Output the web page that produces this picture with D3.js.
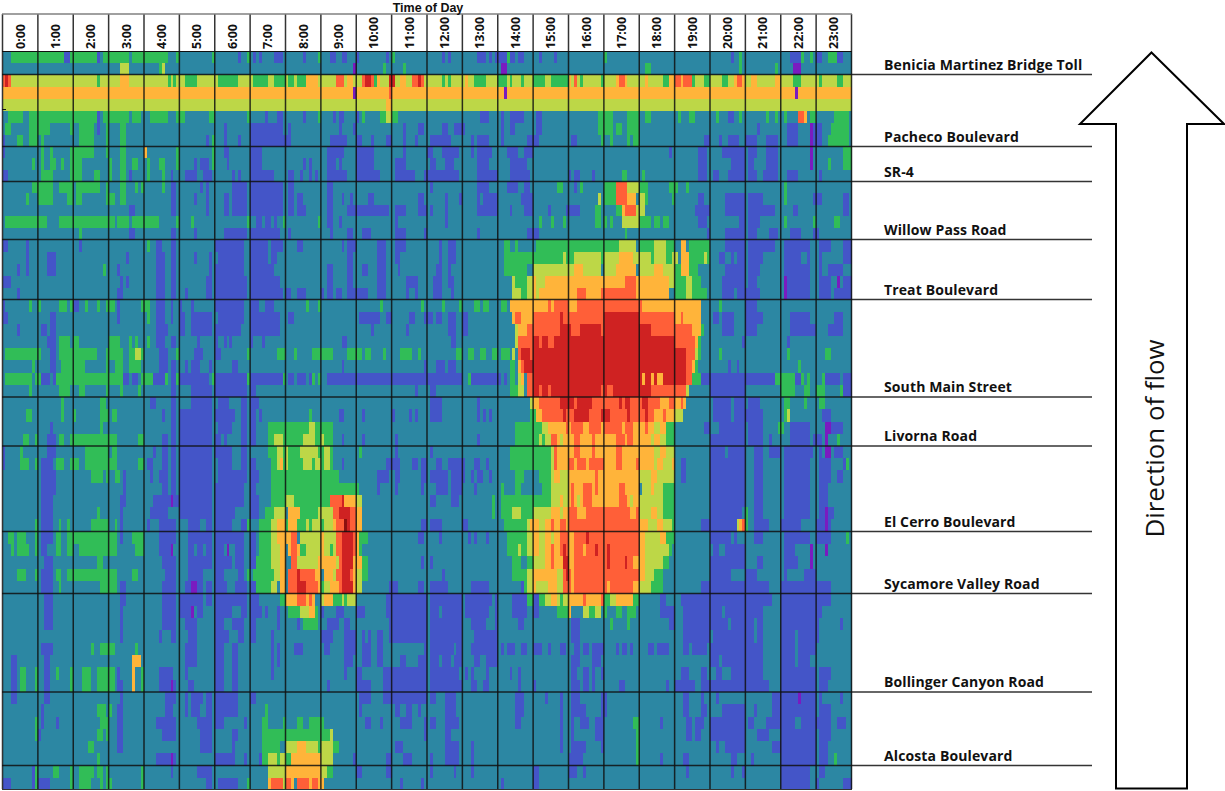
<!DOCTYPE html>
<html>
<head>
<meta charset="utf-8">
<script src="https://cdn.jsdelivr.net/npm/d3@7"></script>
<style>
  html, body { margin: 0; padding: 0; background: #fff; }
  svg { display: block; }
</style>
</head>
<body>
<div id="chart"></div>
<script>
// speed bins, low to high
const levels = ["p", "b", "t", "g", "y", "o", "r", "d", "k"];
const levelColors = ["#7a1bc0", "#4455c8", "#2c87a3", "#31bd57", "#bdd747", "#ffb43a", "#ff5f38", "#cf2222", "#8c1010"];

const hours = ["0:00","1:00","2:00","3:00","4:00","5:00","6:00","7:00","8:00","9:00","10:00","11:00","12:00","13:00","14:00","15:00","16:00","17:00","18:00","19:00","20:00","21:00","22:00","23:00"];

// ramps, name + index of the row the line sits on
const ramps = ["Benicia Martinez Bridge Toll","Pacheco Boulevard","SR-4","Willow Pass Road","Treat Boulevard","South Main Street","Livorna Road","El Cerro Boulevard","Sycamore Valley Road","Bollinger Canyon Road","Alcosta Boulevard"];
const rampRows = [2, 8, 11, 16, 21, 29, 33, 40, 45, 53, 59];
const rampY = [74.5, 146.5, 181.5, 239.5, 299.5, 397, 446, 531.5, 593.5, 692, 765.5];

// one string per row, runs of 5 minute bins: level + start-end (end not included).
// anything not listed is level t
const tollRows = [
  "g3-21 b21-23 g23-32 b32 g34-43 g44-56 g59 g71 b80 g83 b85 b87 b92-95 b102 g107 b111-113 b115-117 b120 b130 g132 b149 b151 b161-164 b165 b167-171 g171 b172-174 b175-177 b182 b187 g204 b247 g250 b267-271 g271 g274 b276-278 g280-283 b283-285",
  "y40-43 g53 y54 p119 g129 g136 p169-171 g218-220 g250 g262 p268-271"
];
const pachecoRows = [
  "y0-288 r0 d1 r2 g32 o40-43 g56 g58 g62-66 g73-80 g85-87 g87-90 g92-96 g97-99 g100-103 o103-107 r113-116 o117-119 r122 d123-125 r125 g126 o127 d131-133 o135-137 r139-141 d141 r142 g149 g151 o157 g160-164 g168-171 g172 g176 g180-184 g186-192 o192 r194 g196 g203 o208 r209-211 o211 o218 g224-226 o226-228 r228-230 o230 r231-234 g234 g238-240 g244-246 o248 r249-251 o251 o254-256 o262-264 g268-271 g277 g283-285",
  "o0-288 r131 p119 p170 p269",
  "y0-288 o130-132",
  "g2-7 g9-32 b32 g34-43 g44-47 g50-56 g59-62 g70-72 g83 b89 b93-95 b102 g107 b112 b114-116 b120 g122 g128-130 y130-132 g132-134 b162-165 b169 b172-177 b181-183 g202-204 g204-207 g212-216 g218-220 g229 g233-235 g242 b246-248 g250 g259 g262 g265 r270-272 o272 g274-276 g282-287",
  "g1-3 g9-16 g23 g26-31 b32 g35 g40-42 b75 b84-95 b97 b114 b119 b136 b141-143 b149-151 b153-157 b169 b172-174 b181-183 g202-204 g204-207 g208-210 g212-216 b256 b266-270 p274 b275-278 g281-287",
  "b0 g5-7 g9-12 g13 g26-31 g35 g40-42 b69 g71 b75 b80 b84-96 b96-98 b111-117 b120-122 b125 b130-132 b136 b140 b145-152 b159 b161-165 b169 b178-182 b193-195 g203 g206 g212 g214-216 b238-240 b243 b246-250 b252-256 b259-263 b266-270 p274 b275-278 g280-287"
];
const sr4Rows = [
  "b0 g13 g16 g23-31 g35 g40-42 o48 g59 g71 b75-77 b84-88 b110-116 b120-126 b136 b144-146 b149-155 b159 b161-166 b171-175 b177-180 b226 b236-239 b244-252 b253-256 b259-263 p274 g285-288",
  "g10 g13 g16-18 g20 g23-27 g36 g40-42 g44-46 g49 g53-55 g59 b65 b67-70 g71 b76 b84-88 b102 b104 b110-113 b114 b120-126 b133-137 b145-147 b150-153 b161-165 b172-178 b236-239 b247-252 b253-255 b259-263 p274 g280 g285-288",
  "b0-2 g13-17 g23-27 g31-33 g36 g40-42 b43 g49 g54 b57 b62-66 b68-71 b78 b80 b84-92 b97-99 b101 b104 b106 b110-117 b120-128 b133-140 b143-155 b161-168 b172-179 b192 b194-196 b200 g210-212 g217 b236-239 b241-243 b246-252 b253-256 b258-263 b266-270 b277"
];
const willowRows = [
  "g10-17 g19-24 g25-33 g35 g40-42 g45 g47 g54 b57-59 b67 b69-70 b78-83 b84-95 b97-99 b110-112 b145 b161-165 b171-175 b177-179 g188-190 b194 g196 g204-208 r208-212 y212-216 g216-219 g226-229 g232 g265",
  "g8 g12-17 g22-24 g25-27 g35-38 g40-42 b57-59 b65 b69-70 b75-77 b78-83 b84-95 b97-99 b100-102 b110-112 b115 b118 b124-126 b141-143 b150 b155 b161 b163-168 b176-180 y202 g204-208 r208-212 o212-215 y216-218 g218 g227 b236-238 b245-252 b253-258 g265 b275-278 b285-287",
  "b43-45 b57-59 b69 b75-77 b78-83 b84-95 b97-99 b100-103 b110-112 b117-131 b133-137 b141-144 b145 b150 b161-168 b172 b177-180 b185 b191-196 g201-203 g208-210 o210 r211-215 y215-218 b235-240 b245-252 b253-262 b268-270 b285-287",
  "g1-15 g19-38 g39-43 g44-53 g59 g64 g83 b86-88 b89-91 b92 g95 g107 b110-112 b114 b133 b150 g182 g186 g190 g201-203 g204 g206 y210-212 y212-216 g216-220 g221-223 g224-226 b236-239 b250-252 b253-257 g265 g275 g282-284",
  "g26 b43-45 b57-59 b65 b75-83 b84-94 b97 b111 b117-119 b122-125 b133-137 b143 b161 b178-182 g211 b239 b245-252 b253-256 b260-263 b267-271 b275-277"
];
const treatRows = [
  "b0-2 b8 b26 g49 b52-54 b57-59 b72-82 b84-90 b91-95 b100-102 b115 b117-120 b127-130 b133-137 b148 b151-154 g170-172 g174 g181-209 y209-215 g216-221 y221-225 g225-228 o230-232 g233-240 b245-252 b253-262 b265-274 b277-281 b285-288",
  "b8 b15-18 b42 b52-55 b57-59 b65 b70 b73-82 b84-90 b91-93 b117-119 b127-130 b133-135 b148 b151-154 g170-180 g180-190 y190 g191-194 y194-203 g203 y204-209 o209-214 y214-216 y216-220 g220 y221-225 g225-227 y227-229 o230-233 g233-238 y238 g239 b243-245 b247 b249-252 b253-258 b265-271 b273 b277 b285-288",
  "b5 b8 b15-18 g34 b39 b52-55 b57-59 b70 b72-82 b84-92 b110-112 b117-119 b122-124 b127-130 b134 b147-149 b151 g170-174 g174-178 y180-194 o194-197 y197-203 y204-208 o208-215 y216-221 o221-224 y224-228 g228-230 o230-233 g233-236 b245-252 b253-257 b265-274 b277 b280-285",
  "b0-3 b40-41 b42 b52-55 b57-59 b69-71 b72-83 b84-94 b110-112 b117-119 b127-130 b137-141 b146-149 b151-153 y173 g174-178 y178-180 o180 y181 y182-184 o184-211 r211-215 o215-226 y226-228 g228-232 y232-234 g234-237 b244-252 b253-256 p265 b266-274 b277-281 p283 b285-288",
  "b5 b39-41 b52-55 b57-59 b62 b69-71 b72-83 b84-95 b96-98 b100-103 b108 b110-112 b113-115 b117-124 b127-130 b137 b140 b146-149 b152 y173-176 g176-178 y178-180 o180 y181 o182-195 r195-198 o198-203 r203-215 o215-226 g228-232 y232-234 g234-239 b244-248 b249-252 b252-257 p265 b266-274 b277-281 b282-288"
];
const southMainRows = [
  "b0 g9 g12 g19-22 g23 b24-26 g28 g32 g35-38 b39 g47-50 b52-55 b57 b60 b64 b72-82 b84-87 b89-92 g103 g107 g128 g142 g149 g155 g160-162 g163-165 g169-171 o172-185 r185 o186 r187-192 o192-195 r195-217 o217-237 g243 b252-256",
  "b0-2 b16-18 b39 g49 b52-55 b57 b60-62 b64-71 b73-82 b84-94 b97-99 b121-128 b130-132 b138-140 b143-146 b147-149 b151-154 b156-158 o173 r174-176 o176-180 r180-189 d189 r190-204 d204-216 r216-228 o228-230 r230 o231-237 b241-243 b244-248 b252-258 b267-274 b282-285",
  "b5 b13-15 b16-18 b52-56 b60-62 b64-71 b72-81 b84-94 b125 b137 b151-154 b156-158 y174 o175-178 r178-189 d189-193 r193-196 d196-203 r203 d204-220 r220-234 o234-237 g237 b244-248 b252-256 b267-276 b280-285",
  "b15-18 g19-23 g24-26 g36-40 g43 g45 g49 b52-55 b57-59 b66 b72 b75 b77 b84 b88 b115-117 b152-154 y174 r175-180 d180-182 r182 d183-185 r185-187 d187-228 r228-235 o235 g236 b251 b266",
  "g1-13 b16-18 g19-32 g35-41 g43-45 y45-47 g47 b53-56 g59 b65-68 b72-74 g83 g93-96 g99 g105-112 g117-122 g123-125 g129 g135-139 g141 g154-156 g158-160 g162-164 g166-168 g169-172 y173 r175 d176-179 r179 d180-232 r232-235 y235 g236 g243 g266 g279-281",
  "g10 b16-18 g20-28 g35 g38-41 g43-47 b53-56 b57-59 b62 b64-67 b70 b78-80 b115 b143 b147-150 b151-154 g172-174 o175 r176 d177-232 r232-234 o234 g235 b246 b249 g270",
  "g1-10 g11-13 b13-16 b17 g18-41 b41-43 b44-46 g47-51 b51-55 g55 b57-59 g59 b60-70 g71 b72-83 g83 b84-95 g95 b97-99 b100-103 b104 g105 g107 b110-156 g158 b159-169 b170 g172-174 y175 o176 r178-180 d180-217 o217 d218-220 o220 d221 o222-224 d224-232 r232-234 g234-237 b237-262 g262-269 b269-271 g271 g273 g278 b279-284 b285-288",
  "g9 g19-23 g26-28 g35 g40 g46 b57-59 b64-71 b72-83 b84-86 b140 b145-147 g172-175 y175-177 r178-180 d180-182 r182 d183-185 r185 d186-203 r203 d204 r205-207 d207-220 r220-232 y232 b240-252 g264-269 g272-274 g276-279 g284 b285-288"
];
const livornaRows = [
  "g20 g33-35 b50-52 b57-59 b64-71 b73-77 b81-83 b84-87 b145-149 b161 y179 o180-182 r182-189 d189-194 r194 d195-200 r200-209 d209 r210 d211-213 r213-217 d217-219 r219-223 o223-226 r226-228 o228-230 r230 o231 b241-247 b248-252 b253-257 g265-267 g272 g277-279",
  "g8-10 g20 g24 g33-35 g35 g37-39 b54 b57-59 b60-71 b72-79 b81-83 b84-86 b87 g104 b114-116 b122 b132 b138 b140 b145-149 b161 b163 b165 g179-181 o181-183 r183-190 d190 r191-194 d194-199 r199-203 d203-206 r206 d207 r207-212 d212 r213-218 d218 r219-221 o221-224 r224 o225-228 y228-231 b241-247 b248-252 b252-258 g265 y266 b278-281",
  "b16 g33 b57-59 b60-71 b73-78 b81-83 b84-86 g90-104 y104-106 g106-112 g174-183 y183-185 o185-191 r191 o192 r193-197 o197-199 r199-203 o203 r204-210 o210 r211-214 o214-218 r218 o219-221 y221-223 o223-225 g225-228 b238-240 b243-252 b253-258 g263-265 b267-274 p279-281 b281-285",
  "g7-9 g11 b15-18 g19-21 g23-39 g46-48 b54-56 b57-59 b60-71 b72-74 b75 b81-83 b84-86 g90-92 y92-95 g95-102 y102-106 g106-108 y108 g109-112 b115 b122 b133 b161 g174-182 y182 g183 y184-186 r186-188 o188 y189 o190-194 r194-196 o196-200 r200 o201-208 r208-211 o211 r212-214 o214-220 y220 o221-223 y223-225 g225-228 b240-252 b253-258 b260 b267-274 b275-278 p279 g283"
];
const elCerroRows = [
  "b0 g6 b15-18 g28-36 g37-39 b51 b54-56 b57-59 b60-71 b72-78 b81-83 g90-93 y93-95 g95 y96 g97-101 y101-107 g107-109 y109-111 g111 g121 b133 b145 g172-186 y186 r187 o188-194 r194-196 o196-200 r200 o201-208 r208-210 o210-221 y221-223 o223-225 y225-228 b240-245 b246-252 b255-258 b260-264 b265-275 b277 p279-281 b282-285",
  "b0 g6-9 g11 b13-17 g18-21 g23-26 g28-39 g46-48 b49-51 b54-56 b57-59 b60-71 b73-78 b81-83 b84-86 g91-93 y93 o94 g95 y96 g97-102 y102-105 g105 y106-108 g108 y109-111 g111 b115 b130-135 b139-141 b142-144 b147-149 b151-157 b160-162 b164 g172-186 y186 r187 o188-192 r192-194 o194 r195-198 o198 r199-204 o204-208 r208-210 o210-215 r215 o216-221 y221 o222-224 y224-227 o227 b230-232 b240-252 b255-258 b265-274 b277-281 b285 g286",
  "b13-18 g30-34 g35 g38-40 b41 b50 b53-56 b57-59 b60-71 b73-81 b81-83 b84-87 g91-114 b127-131 b133-135 b142-144 b145-151 b152-157 b159 b161-163 b165 g174-177 g182-186 y186 o187-189 y189-192 o192-201 r201 o202-216 y216-220 o220-222 y222-228 b230-232 b240-252 b255-258 b265-274 b277-281 b283-285",
  "b13-18 b41 b54-56 b57-59 b60-71 b72-82 b84-86 g91-121 b127 b133 b142 b147-151 b152-156 b160 g169 g174-176 g183-186 y186-192 o192 r193 o194-197 r197-200 o200 r201 o202-209 r209-211 o211-216 y217-220 o220 y221-224 g224-228 b240-252 b255-258 b265-274 b277-280",
  "b13-17 b40-42 b51-57 p57 b58-71 b72-82 b84-87 g91-96 y96-99 g99-111 r111-115 d115 o116-120 y120-122 b145-147 b152-155 g166 g169-186 y186-189 o189 y190-192 o192 r193 o194 y195 o196 r197-200 o200-209 r209-212 o212 y213 o214-216 y216-224 g224-228 b240-252 b255-258 b265-274 b277-280",
  "b13-17 g32 b40 b50-56 b60-71 b72-79 b84-87 g89-92 y92-96 o97-101 g101-107 y107-109 y109-112 r112-114 d114-118 r118-120 o120-122 g166 g169-173 y173-176 g176-180 y180-186 o186-189 y189 o190-192 r192-195 o195-198 r198-213 o213-215 r215 y216-220 o220-222 y222-224 g224-228 b240-251 g252 b255-258 b265-274 b277-282 p279",
  "g11 b13-17 g19 g22 g30-36 g38 b40 b49 b53-59 b63-67 b69-71 b72-78 b81-83 g83 g87-91 y91-93 o93-96 g96 o97-100 g100-103 y103 g104 y105-108 g108 y109-112 o112 r113-116 d116-118 k116 r118-120 o120-122 b142-144 b145-149 b156-158 g170-178 y178 o179-182 y182-184 o184-186 r186 o187-189 r189-191 o191 r192-216 o216-219 y219-222 o222-224 y224-227 g227 b237-249 y249 o250 r251 g252 b255-260 b264-271 b276-281 p279"
];
const sycamoreRows = [
  "g2-4 g5-8 g11 b13-17 g18-20 g22-39 b40 g44-48 b53-59 b63-71 b72-82 b84-86 g87-91 y91-93 o93-96 o96-98 r98-100 y101-108 o108 y109-113 r113-115 d115-119 r119 o120 g121-124 b141-143 b148 b158 b160 b164 g171-178 y178-180 o180-182 y182-184 o184-186 y186 o187-189 r189-192 o192-194 r194-198 d198 r199-216 o216-218 y218-223 o223-225 g225-228 b240-247 b248 b255-258 b265-274 b276-281 g286",
  "g3 g5-9 g11 b13-15 g18-20 g22-24 b53-57 p57 g26-39 g45-48 b63-65 b66-68 b69-71 b72-75 p76 b79-82 b84-86 g87-91 y91-94 o94-96 o97 r98-100 o100 g101-103 y103-108 o108 y109-111 g111 y112 r113-115 d115-119 r119 o120 g121 g171-175 y175 g176-178 y178-180 o180-182 y182-184 o184-186 r186 o187-189 r189 d190 r191 o192-194 r194-197 o197 r198-201 d201 r202-205 d205 r206-216 o216-218 y218-226 g226 b241-243 b245-252 b265-269 p274 p279",
  "b14-17 g32-34 b54-59 b63-71 b72-78 b79-82 b84-86 g86-91 y91-94 o94-96 r98-100 y100-107 o107-113 y113 r114 d115-119 o119-122 g122-124 b142 b145 g173-176 g178-180 y180-184 o184-186 r186 o187-190 d190-192 o192-194 r194-205 d205 r206-211 d211 r212-214 o214-218 y218-224 g224-226 b240-252 b256-258 b265-270 p274",
  "g5-8 g11 b13-17 g18-20 g22-39 g44-46 b55-59 b63-68 b72-75 b80-82 g83 g85-92 y92-94 o94-96 r97-100 d100 r101-106 o106-108 o109-112 y112 r113-115 d115-118 r118 o119 y120-122 g122-124 b149 g173-178 y178-180 o180-188 y188-190 r190 d191 r192-193 o193 r194-216 o216-218 y218-221 g221-224 b240-247 b252-256 b265 b272-276",
  "b13-17 g19 g33-39 b40-42 b54-59 b62-64 p64-66 b66-68 b69-71 b72-76 b79-83 b84-86 g86-91 y91-93 o94-96 r97-100 d100-103 r103-107 o107 g108 y109-111 o111-114 r114 d115-119 o119 y120-122 b131-134 b141-143 b145-151 b159-165 b176 g177 y178-180 o180 y181-185 o185-188 y188-190 r190-193 o193 r194-205 o205 r206-214 o214-216 y216-220 g220-224 b237-260 b264-281"
];
const bollingerRows = [
  "b14-17 b40-42 b54-59 b60-68 b69-71 b72-83 b84-87 g94-96 o96-100 r100-103 o103 r104 o105 y108 o109-112 g112-115 y115 g116 y117-120 b130-144 b145-156 b157-166 b167 b173-178 g178-180 b180-182 g182-184 y184-186 o186-188 y188 g189 y190-192 o192-197 r197 o198-203 r203 g204-206 y206-208 o208-214 g214-216 b223-225 b230-261 b264-281",
  "b14-17 b40 b54-59 b60-64 p64 b66-68 b72-78 b81-83 b84-88 b89 b93 g97-101 y101-104 o104-106 g106 b108 b113-116 b120-123 b130-144 b145-148 b149-156 b157-165 b167 b173-178 b180-182 g188-192 o192-193 y197-199 g199-201 y201-203 g204 g208-210 g212-215 b223-228 b231-244 b245-258 b264-278",
  "b14-17 b40 b54-59 b62-66 b72-75 b78-82 b84-86 b93 b100 g102-107 b110-114 b116-118 b131-144 b145-156 b159-164 b167 b175-177 b193-196 g206 g212 b226-228 b231-246 b247-255 b256-258 b264-277 b284",
  "b40 b53 b57-59 b63-66 b72-77 b80-82 b84-86 b91 b108-112 b116-120 b122 b124 b127-129 b131-144 b145-156 b160-168 b193-196 b231-240 b241-255 b256-258 b264-269 b270-277",
  "b13-17 g30 g33-38 g45 b62-66 b72-75 b78-80 b91 b93 b99-102 b109-111 b116-120 b122-125 b127-129 b143 b145-153 b154-156 b159-168 b169 b171-174 b176-178 b180-183 b185 b189-191 b194-196 b197-199 b200-204 b208 b210-212 b213 b219-221 b222-226 b231-233 b234-239 b240-258 b264-269 b270-276",
  "b3-5 b14-16 o44-47 b62-66 b72-75 b78-80 b91 b93 b116-119 b122-125 b127-129 b135-137 b141-144 b145-148 b149-152 b153-156 b160-162 b164-168 b193-196 b200-203 b240-243 b244-247 b247-258 b264-269 b270-274",
  "b3-5 g6-8 g11 b14-16 g18 g23 g27-30 g32-38 b39 o44 g47 b53-58 b62 b72-75 b78-80 b91 b116 b120-122 b129-144 b145-155 b157 b159 b164 b172 b175 b193-195 b197-199 b200 b203 b230-233 b237-239 b242-244 b247-258 b264-276 b277-281",
  "b3-5 g6-8 g11 b14-16 g23 g27-30 g32-38 b39-41 o44 g47 b53-59 p57 b63-65 b72-75 b78-80 b110 b120-125 b129-144 b145-156 b159-161 b163-165 b175 b180 b193-196 b197-199 b200 b209-211 b225 b228-235 b237-260 b264-276 b277-280"
];
const alcostaRows = [
  "b3-5 b14-16 b40 b55-59 b62 b64-68 b69-71 b72-80 b84-86 b121-125 b129-144 b145-147 b150-154 b174-177 b184 b189 b193-196 b203-205 b231-233 b237 b242 b261-276 p270 b277 b284",
  "b13 g32-35 g36 b39-41 b55-58 b62 b64-67 b69-71 b72-80 g89 b121 b133-135 b137-139 b141 b150-154 b174-177 b189 b193-198 b203-205 b231-233 b237-239 b244-252 b255 b261-276 b277-281",
  "g11 b13 b18 g33-36 b39-41 b52-59 b66-71 b72-75 b82 g88-90 g95 g100-102 g104-107 g107-109 b123-125 b128 b135-139 b143 b145-147 b150-155 b174-176 b189 b193 b196-199 b201-204 g214-216 b223 b232-234 b235-238 b240-252 b253-255 b259-269 b271-281 b283-286",
  "g11 b12 g32-34 g35 b39-41 b54-59 b67-71 b78-80 g88-91 g91-111 y111 b143 b150-152 b189 b193 b201-204 g215-216 b232-234 b235-237 b240-252 b256-260 b264-276 b277-281",
  "g29-31 b39-41 b67-71 b78 g88-94 y96-100 o100-103 y103-107 g107 y108-112 g112-114 b133-136 b150-155 b159 b189 b193-198 b203 g215 b242 b245-252 b261-276 b277-280",
  "g32 b52-57 p57 b58 b72-79 b82 b87 g88-90 y90-93 g93 y94-96 g96-98 o98-108 y108-112 b119 b130-132 b136-139 b145 b150-155 b159 b192-197 g215 b223 b231-233 b247-249 b254 b264-276 g282 b277-280"
];
const lastRows = [
  "b10 g11 g17-19 g23 g26-31 g32-34 g35 g47 b57 b66-71 y90-96 o96-108 y108-110 g110-112 b120-122 b130-132 b145 b153 b159 b180-182 b192-195 b197 b232 b247 b251 b264-274 b277-279",
  "b0-3 b10 g11 b12-16 g23 g26-30 g33 g35-37 g47 b69-71 b73-80 g83 o90 r91 o92 r92-95 y95 r96-98 o98 r100-104 o104 r105-107 o107-109 b135 b142 b169 b180-182 b264-274 b276 b285-288"
];
const rowStrings = [].concat(tollRows, pachecoRows, sr4Rows, willowRows, treatRows, southMainRows, livornaRows, elCerroRows, sycamoreRows, bollingerRows, alcostaRows, lastRows);

// parse the run strings
const cells = [];
rowStrings.forEach(function(str, row) {
    cells.push({row: row, start: 0, end: 288, level: "t"});
    str.split(" ").forEach(function(run) {
        let m = run.match(/^([a-z])(\d+)(?:-(\d+))?$/);
        let start = +m[2];
        cells.push({row: row, start: start, end: m[3] ? +m[3] : start + 1, level: m[1]});
    });
});

const svg = d3.select("#chart").append("svg")
    .attr("width", 1225)
    .attr("height", 791);

const x = d3.scaleLinear().domain([0, 288]).range([2.5, 851.5]);

// rows are not all the same height in the sheet, so the scale is pinned at the ramp lines
const y = d3.scaleLinear()
    .domain([0].concat(rampRows, [61]))
    .range([51.5].concat(rampY, [789.5]));

const color = d3.scaleOrdinal().domain(levels).range(levelColors);

svg.append("g").selectAll("rect")
    .data(cells)
    .enter().append("rect")
    .attr("x", function(d) { return x(d.start); })
    .attr("y", function(d) { return y(d.row); })
    .attr("width", function(d) { return x(d.end) - x(d.start); })
    .attr("height", function(d) { return y(d.row + 1) - y(d.row); })
    .attr("shape-rendering", "crispEdges")
    .attr("fill", function(d) { return color(d.level); });

// ramp lines, darker over the heatmap
const ramp = svg.append("g").selectAll("g")
    .data(ramps)
    .enter().append("g");

ramp.append("line")
    .attr("x1", 2).attr("x2", 1092)
    .attr("y1", function(d, i) { return rampY[i]; })
    .attr("y2", function(d, i) { return rampY[i]; })
    .attr("stroke", "#111")
    .attr("stroke-opacity", 0.85)
    .attr("stroke-width", 1.3);

ramp.append("text")
    .attr("x", 884)
    .attr("y", function(d, i) { return rampY[i] - 4.8; })
    .attr("font-family", "'Open Sans', sans-serif")
    .attr("font-weight", 700)
    .attr("font-size", 14)
    .attr("letter-spacing", 0.12)
    .attr("fill", "#111")
    .text(function(d) { return d; });

// hour grid
svg.append("g").selectAll("line")
    .data(d3.range(25))
    .enter().append("line")
    .attr("x1", function(d) { return x(d * 12); })
    .attr("x2", function(d) { return x(d * 12); })
    .attr("y1", 14)
    .attr("y2", 789)
    .attr("stroke", "#111")
    .attr("stroke-opacity", 0.85)
    .attr("stroke-width", 1.5);

svg.append("line").attr("x1", 2).attr("x2", 852).attr("y1", 14).attr("y2", 14).attr("stroke", "#808080").attr("stroke-width", 1.5);
svg.append("line").attr("x1", 2).attr("x2", 852).attr("y1", 51.5).attr("y2", 51.5).attr("stroke", "#111");
svg.append("line").attr("x1", 2).attr("x2", 852).attr("y1", 789.5).attr("y2", 789.5).attr("stroke", "#333");
svg.append("line").attr("x1", 2).attr("x2", 6).attr("y1", 109.5).attr("y2", 109.5).attr("stroke", "#111");

// hour labels
const hourScale = d3.scaleBand().domain(hours).range([2.5, 851.5]);
const hourAxis = svg.append("g")
    .attr("transform", "translate(0,49)")
    .call(d3.axisTop(hourScale).tickSize(0).tickPadding(0));
hourAxis.select(".domain").remove();
hourAxis.selectAll("text")
    .attr("transform", "rotate(-90)")
    .attr("x", 0)
    .attr("y", 0)
    .attr("dy", "0.35em")
    .attr("text-anchor", "start")
    .attr("font-family", "'Open Sans', sans-serif")
    .attr("font-weight", 700)
    .attr("font-size", 12.5)
    .attr("fill", "#111");

svg.append("text")
    .attr("x", 428).attr("y", 11.5)
    .attr("text-anchor", "middle")
    .attr("font-family", "'Liberation Sans', sans-serif")
    .attr("font-weight", 700)
    .attr("font-size", 12.5)
    .attr("fill", "#111")
    .text("Time of Day");

// flow arrow
svg.append("polygon")
    .attr("points", "1151.5,52.5 1224,124 1187,124 1187,788.5 1116,788.5 1116,124 1080,124")
    .attr("fill", "#fff")
    .attr("stroke", "#000")
    .attr("stroke-width", 2);

svg.append("text")
    .attr("transform", "translate(1163.5,438.5) rotate(-90)")
    .attr("text-anchor", "middle")
    .attr("font-family", "'Open Sans', sans-serif")
    .attr("font-size", 25.8)
    .attr("fill", "#111")
    .text("Direction of flow");
</script>
</body>
</html>
